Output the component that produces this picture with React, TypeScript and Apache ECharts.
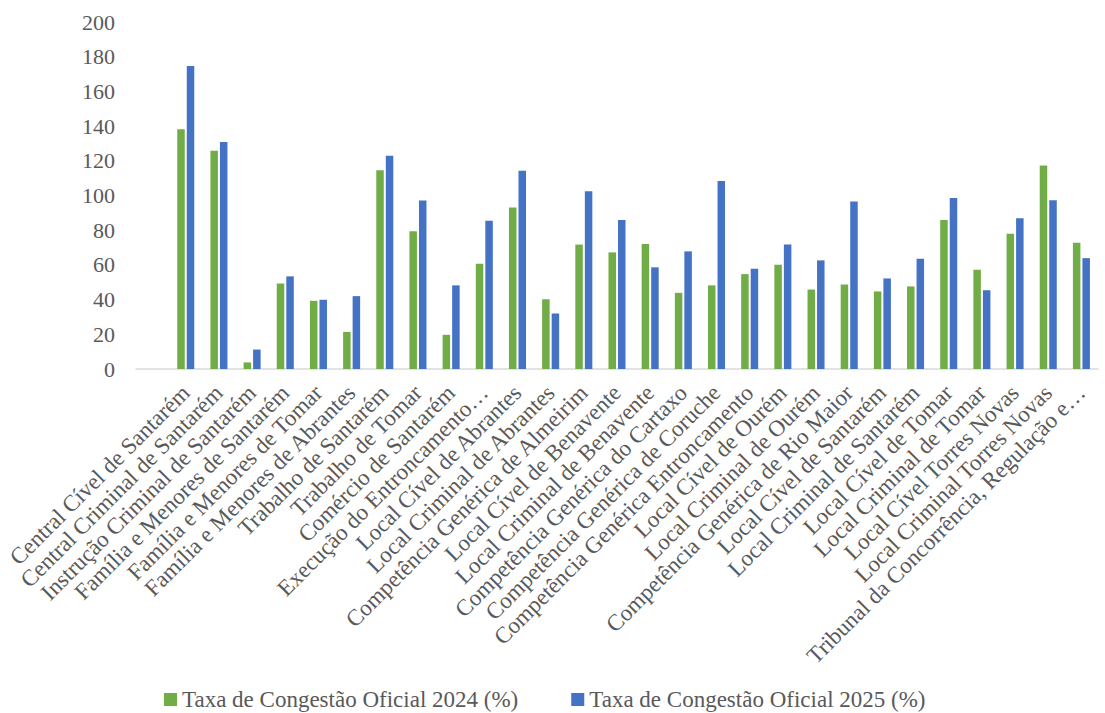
import React, { useEffect, useRef } from "react";
import * as echarts from "echarts";

const categories: string[] = [
  "",
  "Central Cível de Santarém",
  "Central Criminal de Santarém",
  "Instrução Criminal de Santarém",
  "Família e Menores de Santarém",
  "Família e Menores de Tomar",
  "Família e Menores de Abrantes",
  "Trabalho de Santarém",
  "Trabalho de Tomar",
  "Comércio de Santarém",
  "Execução do Entroncamento…",
  "Local Cível de Abrantes",
  "Local Criminal de Abrantes",
  "Competência Genérica de Almeirim",
  "Local Cível de Benavente",
  "Local Criminal de Benavente",
  "Competência Genérica do Cartaxo",
  "Competência Genérica de Coruche",
  "Competência Genérica Entroncamento",
  "Local Cível de Ourém",
  "Local Criminal de Ourém",
  "Competência Genérica de Rio Maior",
  "Local Cível de Santarém",
  "Local Criminal de Santarém",
  "Local Cível de Tomar",
  "Local Criminal de Tomar",
  "Local Cível Torres Novas",
  "Local Criminal Torres Novas",
  "Tribunal da Concorrência, Regulação e…",
];

const series2024: (number | null)[] = [
  null, 138.2, 125.8, 3.8, 49.3, 39.3, 21.4, 114.6, 79.4, 19.7, 60.7, 93.1, 40.2, 71.7,
  67.2, 72.0, 43.9, 48.2, 54.7, 60.1, 45.8, 48.7, 44.7, 47.6, 85.9, 57.2, 78.0, 117.3, 72.8,
];

const series2025: (number | null)[] = [
  null, 174.7, 130.8, 11.2, 53.4, 39.9, 42.0, 122.9, 97.1, 48.2, 85.5, 114.2, 32.0, 102.5,
  85.9, 58.6, 67.8, 108.4, 57.8, 71.7, 62.6, 96.5, 52.2, 63.6, 98.6, 45.4, 86.9, 97.3, 63.9,
];

const seriesNames = ["Taxa de Congestão Oficial 2024 (%)", "Taxa de Congestão Oficial 2025 (%)"];
const yTicks = { min: 0, max: 200, interval: 20 };

const FONT = "Liberation Serif";
const TEXT = "#595959";

export default function App() {
  const ref = useRef<HTMLDivElement>(null);
  useEffect(() => {
    document.body.style.margin = "0";
    if (!ref.current) return;
    const chart = echarts.init(ref.current, null, { renderer: "svg" });
    chart.setOption({
      animation: false,
      backgroundColor: "#ffffff",
      textStyle: { fontFamily: FONT },
      grid: { left: 136, right: 7, top: 22, bottom: 344, containLabel: false },
      legend: {
        left: 159,
        top: 683,
        icon: "rect",
        itemWidth: 13,
        itemHeight: 13,
        itemGap: 53,
        textStyle: { fontFamily: FONT, fontSize: 23, color: TEXT },
        data: seriesNames,
      },
      xAxis: {
        type: "category",
        data: categories,
        axisTick: { show: false },
        axisLine: { lineStyle: { color: "#D9D9D9", width: 1.5 } },
        axisLabel: {
          interval: 0,
          rotate: 45,
          margin: 20,
          fontFamily: FONT,
          fontSize: 23,
          color: TEXT,
        },
      },
      yAxis: {
        type: "value",
        min: yTicks.min,
        max: yTicks.max,
        interval: yTicks.interval,
        splitLine: { show: false },
        axisLine: { show: false },
        axisTick: { show: false },
        axisLabel: { margin: 21, fontFamily: FONT, fontSize: 22, color: TEXT },
      },
      series: [
        {
          name: seriesNames[0],
          type: "bar",
          data: series2024,
          barWidth: 7.5,
          barGap: "27%",
          itemStyle: { color: "#70AD47" },
        },
        {
          name: seriesNames[1],
          type: "bar",
          data: series2025,
          barWidth: 7.5,
          itemStyle: { color: "#4472C4" },
        },
      ],
    });
    return () => chart.dispose();
  }, []);
  return <div ref={ref} style={{ width: 1105, height: 713 }} />;
}
